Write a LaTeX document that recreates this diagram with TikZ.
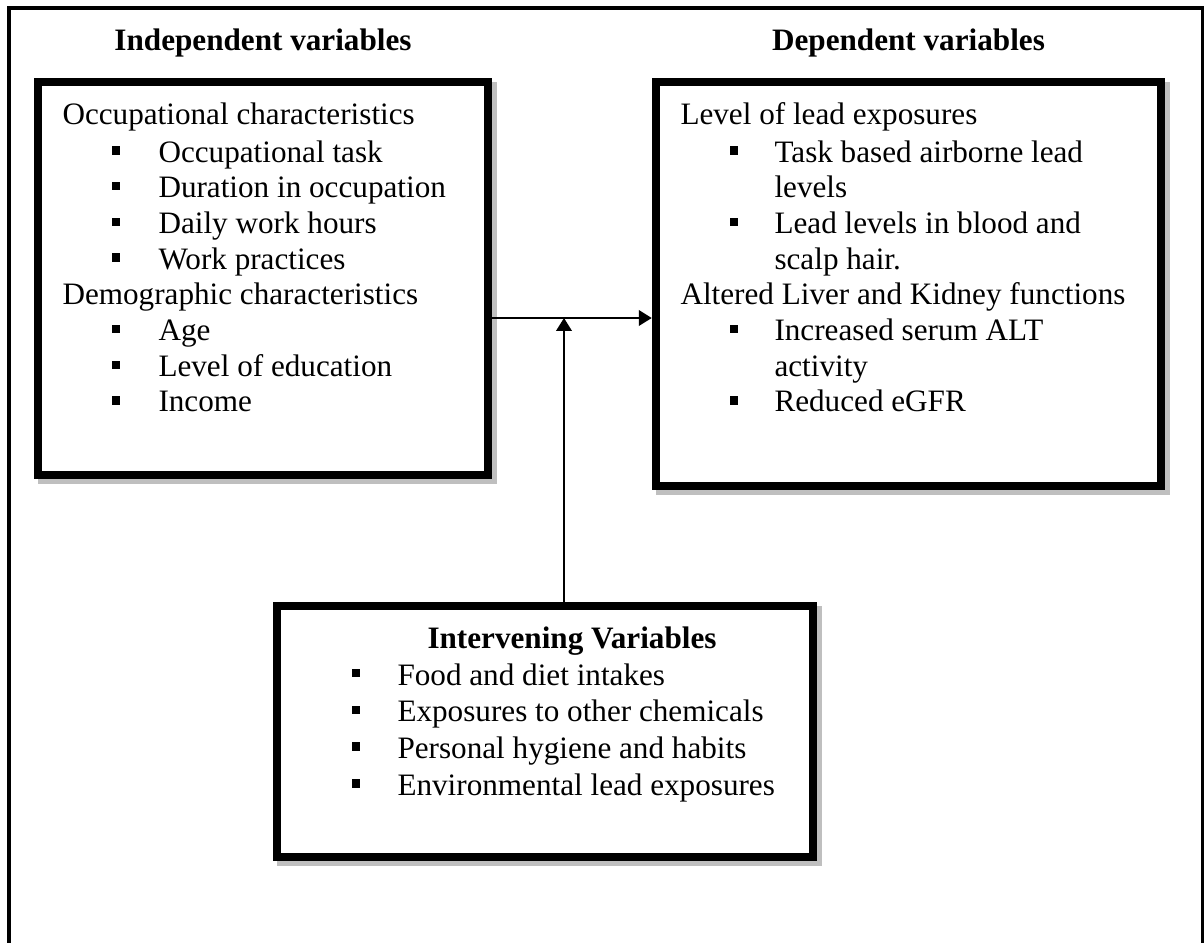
\documentclass[tikz,border=0pt]{standalone}
\usepackage{fontspec}
\setmainfont{Liberation Serif}
\usetikzlibrary{arrows.meta}
\usetikzlibrary{shadows}
\usetikzlibrary{positioning}
\tikzset{> = {Triangle[length=5pt, width=6pt]}, x = 0.385pt, y = -0.385pt}
\tikzset{
  box/.style = {draw, line width = 3.3pt, fill = white, inner sep = 0pt,
    general shadow = {shadow xshift = 1.7pt, shadow yshift = -1.7pt,
      draw = black!25, line width = 3.3pt}},
  txt/.style = {anchor = base west, inner sep = 0pt, font = \fontsize{12}{13.8}\selectfont},
  title/.style = {txt, font = \fontsize{12}{13.8}\selectfont\bfseries},
  bullet/.style = {fill, minimum size = 3.2pt, inner sep = 0pt},
  link/.style = {->, line width = 0.8pt}
}

\begin{document}
\begin{tikzpicture}
  \useasboundingbox (0, 0) rectangle (1204, 942);
  \clip (0, 0) rectangle (1204, 942);
  % frame
  \draw [line width = 1.9pt] (9, 8) rectangle (1203.5, 1000);
  % boxes
  \node [box, minimum width = 173.3pt, minimum height = 151.3pt] (indep) at (263, 278.5) {};
  \node [box, minimum width = 194.4pt, minimum height = 155.5pt] (dep) at (908.5, 284) {};
  \node [box, minimum width = 206.4pt, minimum height = 96.6pt] (interv) at (545, 731.5) {};
  % titles
  \node [title, anchor = base] (indeptitle) at (263, 50) {Independent variables};
  \node [title, anchor = base] (deptitle) at (908.5, 50) {Dependent variables};
  % independent variables
  \node [txt] (occ) at (62, 124) {Occupational characteristics};
  \foreach \lbl [count = \n from 0] in {Occupational task, Duration in occupation,
      Daily work hours, Work practices} {
    \node [txt] (occ\n) at (158, {162 + 35.7*\n}) {\lbl};
    \node [bullet] (occb\n) at (116, {150.5 + 35.7*\n}) {};
  }
  \node [txt] (demo) at (62, {162 + 35.7*4}) {Demographic characteristics};
  \foreach \lbl [count = \n from 5] in {Age, Level of education, Income} {
    \node [txt] (demo\n) at (158, {162 + 35.7*\n}) {\lbl};
    \node [bullet] (demob\n) at (116, {150.5 + 35.7*\n}) {};
  }
  % dependent variables
  \node [txt] (lead) at (680, 124) {Level of lead exposures};
  \foreach \lbl/\xx [count = \n from 0] in {Task based airborne lead/774, levels/774,
      Lead levels in blood and/774, scalp hair./774,
      Altered Liver and Kidney functions/680, Increased serum ALT/774,
      activity/774, Reduced eGFR/774} {
    \node [txt] (dep\n) at (\xx, {162 + 35.7*\n}) {\lbl};
  }
  \foreach \n in {0, 2, 5, 7} {
    \node [bullet] (depb\n) at (734, {150.5 + 35.7*\n}) {};
  }
  % intervening variables
  \node [title] (intervtitle) at (427, 648) {Intervening Variables};
  \foreach \lbl [count = \n from 0] in {Food and diet intakes,
      Exposures to other chemicals, Personal hygiene and habits,
      Environmental lead exposures} {
    \node [txt] (int\n) at (397, {685 + 36.8*\n}) {\lbl};
    \node [bullet] (intb\n) at (356, {673 + 36.8*\n}) {};
  }
  % arrows
  \coordinate (meet) at (564, 318);
  \draw [link] (indep.east |- meet) -- (dep.west |- meet);
  \draw [link] (interv.north -| meet) -- (meet);
\end{tikzpicture}
\end{document}
